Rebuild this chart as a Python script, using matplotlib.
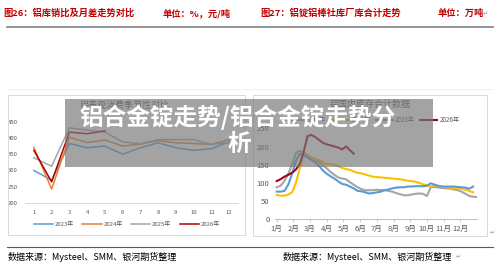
import matplotlib.pyplot as plt
from matplotlib.patches import Rectangle
from matplotlib.lines import Line2D
import numpy as np

plt.rcParams['font.family'] = ['Noto Sans CJK SC', 'DejaVu Sans']

W, H = 500, 268

# left chart: monthly apparent consumption
months = list(range(1, 13))
cons_2023 = [300, 270, 383, 370, 375, 350, 370, 385, 370, 362, 367, 388]
cons_2024 = [371, 243, 402, 386, 394, 375, 381, 392, 385, 383, 380, 395]
cons_2025 = [339, 313, 431, 424, 418, 388, 382, 395, 395, 395, 380, 386]
cons_2026 = [362, 265, 418, 413, 422]
left_years = ['2023年', '2024年', '2025年', '2026年']
left_colors = ['#5B9BD5', '#ED7D31', '#A5A5A5', '#B00000']

# right chart: weekly inventory (万吨)
inv_2023 = [88, 92, 105, 125, 150, 182, 188, 184, 176, 170, 164, 158, 148, 140,
            130, 122, 115, 112, 110, 102, 95, 88, 83, 80, 80, 80, 81, 80, 80, 78,
            76, 72, 69, 66, 66, 68, 70, 71, 70, 64, 88, 89, 87, 86, 85, 84, 82,
            80, 76, 70, 64, 62, 61]
inv_2024 = [67, 65, 65, 68, 74, 100, 140, 178, 175, 170, 166, 162, 157, 152,
            151, 150, 146, 141, 138, 136, 131, 128, 126, 123, 120, 117, 116, 115,
            114, 113, 112, 111, 110, 108, 106, 105, 103, 100, 96, 94, 90, 93, 91,
            89, 88, 87, 86, 85, 84, 81, 78, 74]
inv_2025 = [76, 76, 78, 95, 125, 160, 180, 176, 170, 163, 157, 147, 134, 125,
            118, 112, 104, 97, 95, 90, 85, 78, 77, 74, 71, 72, 74, 76, 80, 82,
            85, 87, 88, 88, 90, 90, 91, 91, 91, 92, 99, 95, 92, 90, 90, 90, 90,
            89, 88, 87, 84, 90]
inv_2026 = [105, 110, 117, 122, 128, 137, 152, 185, 228, 232, 226, 218, 210,
            206, 203, 200, 197, 192, 200, 190, 180]
month_labels = ['1月', '2月', '3月', '4月', '5月', '6月', '7月', '8月', '9月',
                '10月', '11月', '12月']
right_years = ['2023年', '2024年', '2025年', '2026年']
right_colors = ['#A5A5A5', '#FFC000', '#5B9BD5', '#A50021']


def fx(x):
    return x / W


def fy(y):
    return 1 - y / H


fig = plt.figure(figsize=(W / 100, H / 100), dpi=100)
fig.patch.set_facecolor('white')

# headers
red = '#C00000'
hs = 6.7
fig.text(fx(3), fy(13), '图26：铝库销比及月差走势对比', color=red, fontsize=hs,
         fontweight='bold', va='center')
fig.text(fx(163), fy(13), '单位：%，元/吨', color=red, fontsize=hs,
         fontweight='bold', va='center')
fig.text(fx(260), fy(13), '图27：铝锭铝棒社库厂库合计走势', color=red, fontsize=hs,
         fontweight='bold', va='center')
fig.text(fx(438), fy(13), '单位：万吨', color=red, fontsize=hs,
         fontweight='bold', va='center')
fig.text(fx(483), fy(14), '↵', color='#999999', fontsize=4.5, va='center',
         family=['DejaVu Sans'])
fig.add_artist(Line2D([fx(7), fx(493)], [fy(27), fy(27)], color='#8c8c8c', lw=1.3))
fig.add_artist(Line2D([fx(7), fx(493)], [fy(89), fy(89)], color='#ececec', lw=0.6))

# chart frames
for x0, x1, y0, y1 in [(8, 245, 95, 235), (253, 487, 95, 236)]:
    fig.add_artist(Rectangle((fx(x0), fy(y1)), fx(x1 - x0), (y1 - y0) / H,
                             transform=fig.transFigure, fill=False,
                             edgecolor='#d9d9d9', lw=0.7))

tick_color = '#595959'

# ---- left chart
ax1 = fig.add_axes([fx(25), fy(203), fx(213), (203 - 121.7) / H])
for vals, lab, col in zip([cons_2023, cons_2024, cons_2025, cons_2026],
                          left_years, left_colors):
    ax1.plot(months[:len(vals)], vals, color=col, lw=1.1, label=lab)
ax1.set_xlim(0.5, 12.5)
ax1.set_ylim(200, 450)
ax1.set_xticks(months)
ax1.set_yticks([200, 250, 300, 350, 400, 450])
ax1.tick_params(length=0, labelsize=4.3, colors=tick_color, pad=5)
for s in ['top', 'right', 'left']:
    ax1.spines[s].set_visible(False)
ax1.spines['bottom'].set_color('#d9d9d9')
ax1.spines['bottom'].set_linewidth(0.7)
ax1.patch.set_alpha(0)
ax1.legend(loc='center', bbox_to_anchor=(fx(127), fy(224)),
           bbox_transform=fig.transFigure, ncol=4, frameon=False,
           fontsize=4.3, handlelength=3.2, columnspacing=1.4, handletextpad=0.3,
           labelcolor=tick_color)
fig.text(fx(125), fy(105), '铝表观消费季节性对比', color=tick_color, fontsize=6.5,
         ha='center', va='center')

# ---- right chart
ax2 = fig.add_axes([fx(275), fy(219.3), fx(202), (219.3 - 128.3) / H])
for vals, lab, col in zip([inv_2023, inv_2024, inv_2025, inv_2026],
                          right_years, right_colors):
    xs = np.arange(len(vals)) * 12 / 52
    ax2.plot(xs, vals, color=col, lw=1.5, label=lab)
ax2.set_xlim(-0.1, 12.0)
ax2.set_ylim(0, 250)
ax2.set_xticks(range(12))
ax2.set_xticklabels(month_labels)
ax2.set_yticks([0, 50, 100, 150, 200, 250])
ax2.tick_params(axis='y', length=0, labelsize=5.5, colors=tick_color, pad=4)
ax2.tick_params(axis='x', length=2, width=0.6, color='#bfbfbf', labelsize=5.5,
                labelcolor=tick_color, pad=2)
for s in ['top', 'right', 'left']:
    ax2.spines[s].set_visible(False)
ax2.spines['bottom'].set_color('#bfbfbf')
ax2.spines['bottom'].set_linewidth(0.7)
ax2.patch.set_alpha(0)
ax2.legend(loc='center', bbox_to_anchor=(fx(373), fy(120)),
           bbox_transform=fig.transFigure, ncol=4, frameon=False,
           fontsize=4.5, handlelength=2.8, columnspacing=0.8, handletextpad=0.3,
           labelcolor=tick_color)
fig.text(fx(370), fy(104), '铝国内库存合计数据', color=tick_color, fontsize=6.5,
         ha='center', va='center')
fig.text(fx(490), fy(233), '↵', color='#999999', fontsize=4.5, va='center',
         family=['DejaVu Sans'])

# overlay banner
fig.add_artist(Rectangle((fx(65), fy(167)), fx(368), 68 / H,
                         transform=fig.transFigure, facecolor='#787878',
                         alpha=0.68, edgecolor='none', zorder=5))
fig.text(fx(238), fy(117), '铝合金锭走势/铝合金锭走势分', color='white', fontsize=17,
         fontweight='bold', ha='center', va='center', zorder=6)
fig.text(fx(239), fy(144), '析', color='white', fontsize=17,
         fontweight='bold', ha='center', va='center', zorder=6)

# footer
fig.add_artist(Line2D([fx(7), fx(493)], [fy(247), fy(247)], color='#595959', lw=0.8))
src = '数据来源：Mysteel、SMM、银河期货整理'
fig.text(fx(8), fy(257), src, color='black', fontsize=6.5, va='center')
fig.text(fx(283), fy(257), src, color='black', fontsize=6.5, va='center')
fig.text(fx(456), fy(257), '↵', color='#999999', fontsize=4.5, va='center',
         family=['DejaVu Sans'])

fig.savefig('out.png', dpi=100)
